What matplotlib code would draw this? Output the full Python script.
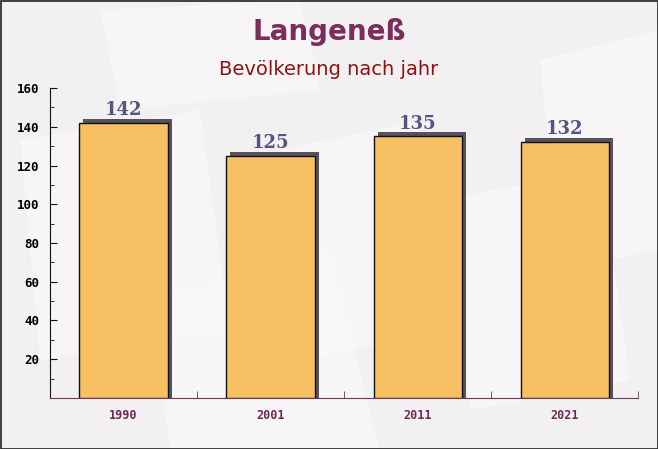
import matplotlib
matplotlib.use("Agg")
import matplotlib.pyplot as plt
import matplotlib.transforms as mtransforms
from matplotlib.patches import Polygon, Rectangle

years = ["1990", "2001", "2011", "2021"]
values = [142, 125, 135, 132]
y_ticks = [20, 40, 60, 80, 100, 120, 140, 160]

fig = plt.figure(figsize=(6.58, 4.49), dpi=100)
fig.patch.set_facecolor("#f3f0f2")

# faint background pattern
bg = fig.add_axes([0, 0, 1, 1], zorder=0)
bg.set_xlim(0, 658); bg.set_ylim(449, 0); bg.axis("off")
shapes = [
    [(20, 140), (200, 110), (230, 330), (40, 360)],
    [(280, 150), (420, 120), (450, 330), (300, 360)],
    [(440, 200), (600, 170), (630, 380), (470, 410)],
    [(150, 300), (330, 250), (380, 449), (170, 449)],
    [(540, 60), (658, 30), (658, 250), (560, 270)],
    [(100, 10), (300, 0), (320, 90), (120, 110)],
]
for s in shapes:
    bg.add_patch(Polygon(s, closed=True, facecolor="white", alpha=0.35, edgecolor="none"))
bg.add_patch(Rectangle((0.5, 0.5), 657, 448, fill=False, edgecolor="#222222", linewidth=1.2))

ax = fig.add_axes([0.076, 0.1136, 0.894, 0.6904], zorder=1)
ax.patch.set_alpha(0)

x = list(range(len(years)))
shadow_tr = mtransforms.offset_copy(ax.transData, fig=fig, x=4, y=4, units="dots")
ax.bar(x, [v + 3 for v in values], bottom=-3, width=0.6, color="#57525c",
       edgecolor="none", zorder=2, transform=shadow_tr)
ax.bar(x, values, width=0.6, color="#f7c163",
       edgecolor="#111111", linewidth=1.0, zorder=3)

for xi, v in zip(x, values):
    ax.text(xi, v + 2.0, str(v), ha="center", va="bottom", fontsize=13,
            fontweight="bold", family="DejaVu Serif", color="#55557f", zorder=4)

ax.set_xlim(-0.5, 3.5)
ax.set_ylim(0, 160)
ax.set_yticks(y_ticks)
ax.set_yticks(range(10, 160, 20), minor=True)
ax.set_xticks(x)
ax.set_xticklabels(years)
ax.set_xticks([0.5, 1.5, 2.5, 3.5], minor=True)

ax.tick_params(axis="x", which="major", length=0, pad=8, labelsize=8.5, labelcolor="#6b2a55")
ax.tick_params(axis="x", which="minor", direction="in", length=5, color="#6b3a5a")
ax.tick_params(axis="y", which="major", direction="in", length=5, labelsize=9, pad=8, color="#111111")
ax.tick_params(axis="y", which="minor", direction="in", length=3, color="#111111")
for lbl in ax.get_xticklabels() + ax.get_yticklabels():
    lbl.set_family("DejaVu Sans Mono")
    lbl.set_fontweight("bold")

ax.spines["top"].set_visible(False)
ax.spines["right"].set_visible(False)
ax.spines["left"].set_color("#111111")
ax.spines["bottom"].set_color("#6b3a5a")

fig.text(0.5, 0.928, "Langeneß", ha="center", va="center", fontsize=20,
         fontweight="bold", color="#7b2d5b", family="DejaVu Sans")
fig.text(0.5, 0.845, "Bevölkerung nach jahr", ha="center", va="center", fontsize=14,
         color="#8b1515", family="DejaVu Sans")

fig.savefig("out.png", dpi=100, facecolor=fig.get_facecolor())
